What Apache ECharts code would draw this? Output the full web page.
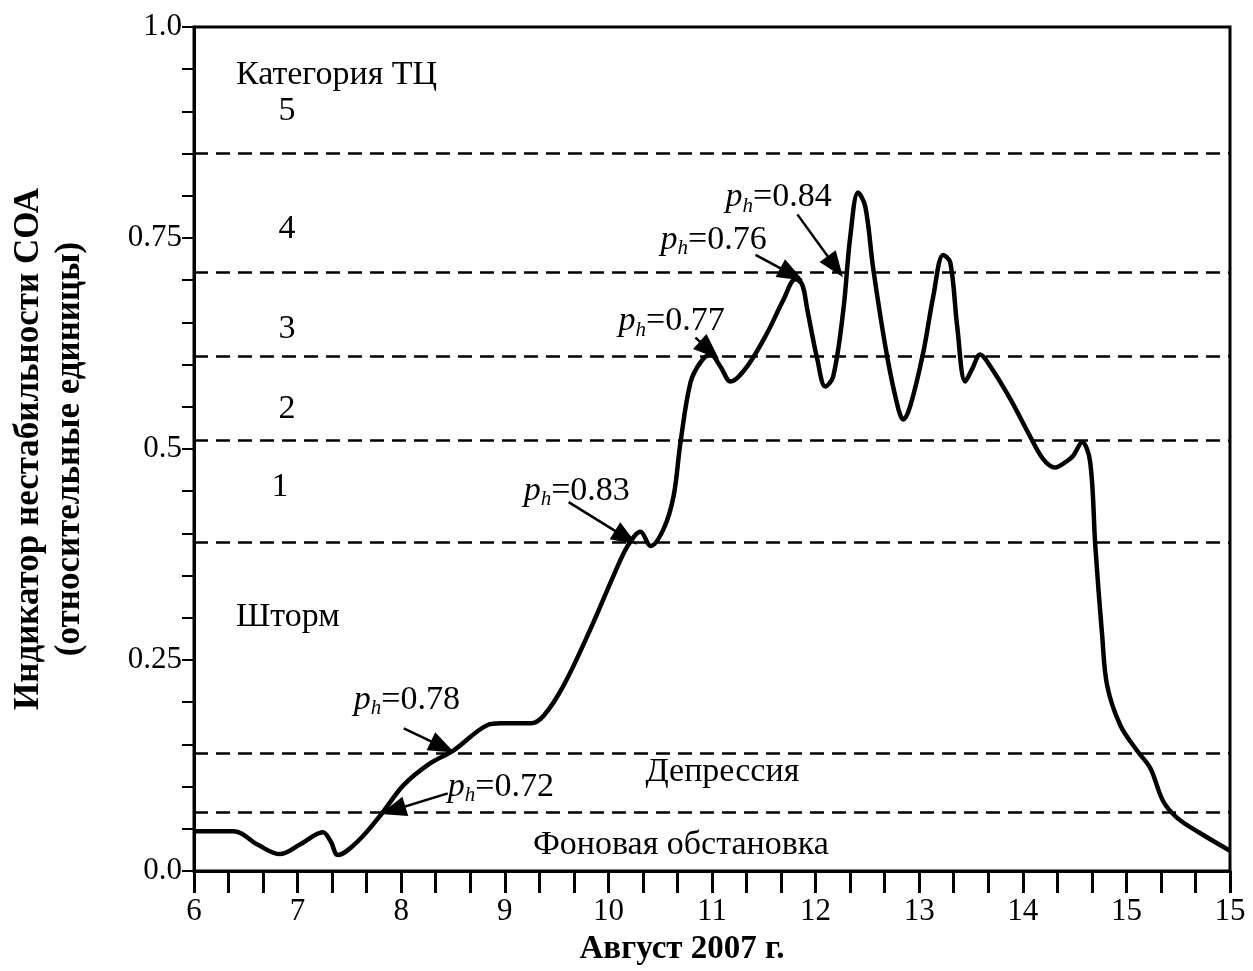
<!DOCTYPE html>
<html>
<head>
<meta charset="utf-8">
<script src="https://cdn.jsdelivr.net/npm/echarts@6/dist/echarts.min.js"></script>
<style>html,body{margin:0;padding:0;background:#fff;}#c{width:1253px;height:971px;}</style>
</head>
<body>
<div id="c"></div>
<script>
// ---- data ----
const days = [6.00, 6.386, 6.617, 6.829, 7.03, 7.244, 7.32, 7.389, 7.58, 7.80, 8.025, 8.285, 8.507, 8.835, 8.96, 9.25, 9.375, 9.568, 9.828, 10.05, 10.185, 10.31, 10.407, 10.532, 10.629, 10.696, 10.793, 10.89, 10.985, 11.08, 11.18, 11.34, 11.535, 11.69, 11.805, 11.87, 11.92, 12.017, 12.094, 12.17, 12.268, 12.335, 12.41, 12.48, 12.557, 12.69, 12.80, 12.847, 12.914, 13.04, 13.136, 13.232, 13.30, 13.367, 13.444, 13.512, 13.589, 13.686, 13.88, 14.07, 14.197, 14.31, 14.43, 14.486, 14.573, 14.65, 14.70, 14.766, 14.814, 14.94, 15.10, 15.23, 15.354, 15.49, 15.71, 16.0];
const instability = [0.047, 0.047, 0.031, 0.020, 0.032, 0.046, 0.035, 0.019, 0.035, 0.066, 0.102, 0.128, 0.143, 0.173, 0.175, 0.175, 0.184, 0.220, 0.287, 0.350, 0.385, 0.402, 0.385, 0.405, 0.444, 0.508, 0.579, 0.603, 0.612, 0.598, 0.580, 0.598, 0.638, 0.677, 0.701, 0.695, 0.665, 0.606, 0.574, 0.586, 0.665, 0.752, 0.804, 0.787, 0.713, 0.610, 0.547, 0.535, 0.551, 0.615, 0.681, 0.730, 0.721, 0.645, 0.580, 0.595, 0.612, 0.598, 0.559, 0.515, 0.488, 0.478, 0.486, 0.492, 0.508, 0.485, 0.385, 0.279, 0.220, 0.173, 0.143, 0.122, 0.083, 0.063, 0.045, 0.024];
const xTickLabels = ['6', '7', '8', '9', '10', '11', '12', '13', '14', '15', '15'];
const yTickLabels = ['0.0', '0.25', '0.5', '0.75', '1.0'];
const thresholds = [0.852, 0.706, 0.609, 0.511, 0.387, 0.144, 0.070];

const zoneTexts = ['Категория ТЦ', '5', '4', '3', '2', '1', 'Шторм', 'Депрессия', 'Фоновая обстановка'];
const zoneAt = [[6.405, 0.943], [6.897, 0.900], [6.897, 0.760], [6.897, 0.642], [6.897, 0.547], [6.829, 0.455], [6.405, 0.301], [11.10, 0.117], [10.70, 0.031]];
const zoneAlign = ['left', 'center', 'center', 'center', 'center', 'center', 'left', 'center', 'center'];

const phValues = ['0.84', '0.76', '0.77', '0.83', '0.78', '0.72'];
const phTextAt = [[11.13, 0.798], [10.503, 0.748], [10.098, 0.651], [9.182, 0.450], [7.543, 0.203], [8.449, 0.100]];
const phArrowTail = [[11.824, 0.778], [11.42, 0.730], [10.84, 0.632], [9.616, 0.437], [8.025, 0.169], [8.449, 0.092]];
const phArrowTip = [[12.19, 0.716], [11.77, 0.707], [10.975, 0.617], [10.17, 0.395], [8.40, 0.147], [7.92, 0.072]];

// ---- chart ----
const serif = "'Liberation Serif', 'Times New Roman', serif";
const chart = echarts.init(document.getElementById('c'), null, {renderer: 'canvas'});

const curve = days.map((d, i) => [d, instability[i]]);

const zoneData = zoneTexts.map((t, i) => ({
  value: zoneAt[i],
  label: {show: true, formatter: t, position: [0, 0], align: zoneAlign[i], verticalAlign: 'middle',
    fontFamily: serif, fontSize: 34, color: '#000', textBorderWidth: 0, opacity: 1}
}));

const phData = phValues.map((v, i) => ({
  value: phTextAt[i],
  label: {show: true, formatter: '{p|p}{h|h}{n|=' + v + '}', position: [0, 0], align: 'left', verticalAlign: 'middle',
    color: '#000', textBorderWidth: 0,
    rich: {
      p: {fontFamily: serif, fontStyle: 'italic', fontSize: 34, color: '#000', lineHeight: 38, verticalAlign: 'middle'},
      h: {fontFamily: serif, fontStyle: 'italic', fontSize: 21, color: '#000', lineHeight: 38, verticalAlign: 'bottom'},
      n: {fontFamily: serif, fontSize: 34, color: '#000', lineHeight: 38, verticalAlign: 'middle'}
    }}
}));

const arrowData = phValues.map((v, i) => [
  {coord: phArrowTail[i], symbol: 'none'},
  {coord: phArrowTip[i], symbol: 'triangle', symbolSize: [20, 26]}
]);

chart.setOption({
  animation: false,
  backgroundColor: '#fff',
  grid: {left: 193, right: 23, top: 27, bottom: 98, show: true, borderColor: '#000', borderWidth: 3, backgroundColor: 'transparent'},
  xAxis: {
    type: 'value', min: 6, max: 16, interval: 1,
    name: 'Август 2007 г.', nameLocation: 'middle', nameGap: 62,
    nameTextStyle: {fontFamily: serif, fontWeight: 'bold', fontSize: 33, color: '#000', padding: [0, 60, 0, 0]},
    axisLine: {show: true, onZero: false, lineStyle: {color: '#000', width: 3}},
    axisTick: {show: true, length: 22, lineStyle: {color: '#000', width: 3}},
    minorTick: {show: true, splitNumber: 3, length: 22, lineStyle: {color: '#000', width: 3}},
    splitLine: {show: false},
    axisLabel: {fontFamily: serif, fontSize: 31, color: '#000', margin: 25,
      showMinLabel: true, showMaxLabel: true,
      formatter: v => xTickLabels[Math.round(v - 6)]}
  },
  yAxis: {
    type: 'value', min: 0, max: 1, interval: 0.25,
    name: 'Индикатор нестабильности СОА\n(относительные единицы)', nameLocation: 'middle', nameGap: 104,
    nameTextStyle: {fontFamily: serif, fontWeight: 'bold', fontSize: 35, color: '#000', lineHeight: 41},
    axisLine: {show: true, onZero: false, lineStyle: {color: '#000', width: 3}},
    axisTick: {show: true, length: 12, lineStyle: {color: '#000', width: 2}},
    minorTick: {show: true, splitNumber: 5, length: 12, lineStyle: {color: '#000', width: 2}},
    splitLine: {show: false},
    axisLabel: {fontFamily: serif, fontSize: 31, color: '#000', margin: 12,
      showMinLabel: true, showMaxLabel: true,
      formatter: v => yTickLabels[Math.round(v / 0.25)]}
  },
  series: [
    {
      type: 'line', data: curve, smooth: 0.35, showSymbol: false, silent: true,
      lineStyle: {color: '#000', width: 4.5}, z: 5,
      markLine: {
        silent: true, symbol: 'none', animation: false,
        label: {show: false},
        lineStyle: {color: '#000', width: 2.5, type: [14, 8]},
        data: thresholds.map(t => ({yAxis: t}))
      }
    },
    {
      type: 'scatter', data: zoneData, symbolSize: 0, silent: true, z: 6,
      itemStyle: {opacity: 1}, label: {color: '#000'}
    },
    {
      type: 'scatter', data: phData, symbolSize: 0, silent: true, z: 6,
      itemStyle: {opacity: 1}, label: {color: '#000'},
      markLine: {
        silent: true, animation: false,
        label: {show: false},
        lineStyle: {color: '#000', width: 2.5, type: 'solid', opacity: 1},
        itemStyle: {color: '#000'},
        data: arrowData
      }
    }
  ]
});
</script>
</body>
</html>
